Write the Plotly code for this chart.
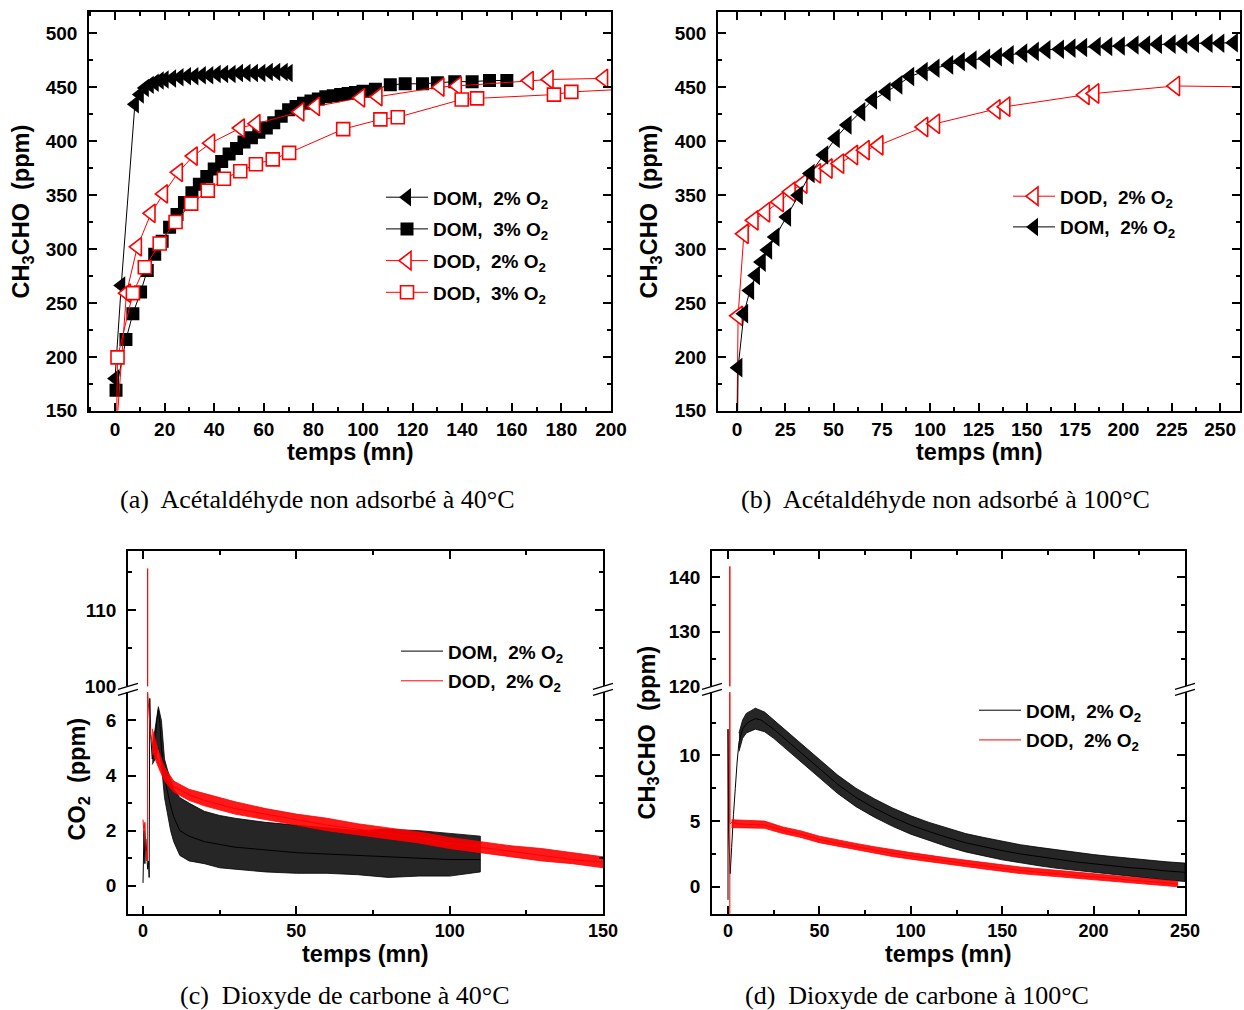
import plotly.graph_objects as go

# positions are given as pixels of the 1244x1010 reference picture and converted to paper fractions
W, H = 1244, 1010
FIG_W, FIG_H = 1260, 1023
SANS = "Liberation Sans, Arial, sans-serif"
SERIF = "Liberation Serif, Times New Roman, serif"

# ---------------- data ----------------
# (a) CH3CHO non adsorbed at 40 C
A_DOM2_t = [0, 2.5, 8, 10, 12, 14, 16, 18, 20, 23, 26, 29, 32, 35, 38, 41, 44, 47, 50, 53, 56, 59, 62, 65, 68, 70]
A_DOM2_y = [180, 266, 434, 443, 449, 452, 454, 456, 457, 458, 459, 460, 460, 461, 461, 462, 462, 462, 463, 463, 463, 463, 464, 464, 464, 463]
A_DOM3_t = [0.4, 4.4, 7.2, 10.3, 13, 16, 19, 22, 25, 28, 31, 34, 37, 40, 43, 46, 49, 52, 55, 58, 61, 64, 67, 70,
            73, 76, 79, 82, 85, 88, 91, 94, 97, 100, 105, 111, 117, 124, 130, 137, 144, 151, 158]
A_DOM3_y = [169, 216, 240, 260, 280, 295, 307, 320, 332, 343, 352, 360, 367, 374, 381, 388, 393, 399, 403, 408, 412, 417, 423, 429,
            432, 435, 437, 439, 441, 442, 443, 444, 445, 446, 448, 452, 453, 453, 454, 455, 455, 456, 456]
A_DOD2_t = [0.8, 4.6, 9, 14.5, 19.5, 25.5, 31.5, 38.5, 50.5, 56.8, 74.5, 80.8, 99, 106, 131, 138, 167, 175, 197]
A_DOD2_y = [140, 259, 302, 333, 351, 371, 386, 398, 412, 416, 427, 432, 440, 441, 450, 451, 456, 457, 458]
A_DOD3_t = [0.5, 1, 7.2, 12, 18, 24.4, 30.7, 37.4, 43.9, 50.5, 56.8, 63.6, 70.2, 92, 107, 114, 139.8, 146, 177, 184, 215]
A_DOD3_y = [120, 199.5, 259, 283, 305, 325, 342, 354, 365, 372, 378.5, 383, 389, 411, 420, 422, 438.5, 439.5, 443, 445.5, 449]

# (b) CH3CHO non adsorbed at 100 C
B_DOD2_t = [0, 0.6, 3.6, 8.7, 14.7, 21.8, 27.9, 34, 41, 47, 53, 60.2, 66.2, 73.3, 96.5, 102.6, 133.9, 139, 180, 185, 226.8, 270]
B_DOD2_y = [140, 238, 314, 326.5, 334, 343.5, 353, 360.6, 370, 374.5, 379, 387, 391.5, 396, 413, 416, 429.3, 431.8, 442.7, 444, 451, 450]
B_DOM2_t = [0.3, 0.6, 3.6, 6.7, 9.7, 12.7, 16, 19.8, 25.8, 31.9, 38, 45, 51, 57.1, 64.2, 70.3, 77.3, 83.4, 89.5, 96.5,
            102.6, 109.7, 115.7, 121.8, 128.8, 134.9, 141, 148, 154, 160, 167, 173, 179, 186, 192, 198.5, 205.6, 211.6,
            217.7, 224.8, 230.8, 236.9, 243.9, 250, 257]
B_DOM2_y = [140, 190, 240, 261.5, 275.4, 287.8, 299, 311, 329.6, 349.7, 369.9, 387, 402.4, 414.8, 427, 438, 445.7, 452, 459.7, 464.3,
            467.4, 470.5, 473.6, 475, 476.7, 478, 479.8, 481.4, 483, 484.5, 485, 486, 486.6, 487.6, 487.6, 488, 489, 489,
            489.7, 489.7, 490, 490.6, 490.6, 490.6, 491]

# (c) CO2 at 40 C  (centre line + read envelope of the noisy band)
C_DOM_t = [0, 0.3, 0.6, 0.9, 1.2, 1.5, 1.8, 2.0, 2.2, 2.5, 3.0, 3.5, 4.0, 4.5, 5.0, 5.5, 6, 7, 8, 9,
           10, 12, 15, 20, 25, 30, 40, 50, 60, 70, 80, 90, 100, 110]
C_DOM_y = [0.1, 2.0, 0.8, 1.7, 1.2, 0.6, 0.9, 0.3, 6.8, 5.5, 4.6, 4.8, 5.3, 6.0, 6.4, 5.9, 5.0, 4.0, 3.4, 2.9,
           2.5, 2.0, 1.8, 1.6, 1.5, 1.4, 1.3, 1.2, 1.15, 1.1, 1.05, 1.0, 0.95, 0.95]
C_DOM_band_t = [3, 4, 5, 6, 7, 8, 9, 10, 12, 15, 20, 25, 30, 40, 50, 60, 70, 80, 90, 100, 110]
C_DOM_lo = [4.4, 4.6, 5.0, 4.4, 3.2, 2.6, 2.0, 1.6, 1.1, 0.9, 0.8, 0.65, 0.6, 0.5, 0.45, 0.45, 0.4, 0.3, 0.35, 0.35, 0.5]
C_DOM_hi = [5.0, 5.8, 6.5, 6.0, 4.6, 4.2, 3.8, 3.5, 3.2, 3.0, 2.7, 2.55, 2.45, 2.3, 2.2, 2.1, 2.0, 2.05, 2.0, 1.9, 1.8]
C_DOD_t = [0, 0.3, 0.6, 0.9, 1.2, 1.5, 1.5, 1.5, 2.0, 2.5, 3, 4, 5, 7, 10, 15, 20, 25, 30, 40, 50,
           60, 70, 80, 90, 100, 110, 120, 130, 140, 150]
C_DOD_y = [2.4, 1.9, 2.3, 1.5, 0.9, 1.0, 115.5, 7.0, 6.2, 5.5, 5.2, 4.8, 4.5, 4.0, 3.6, 3.3, 3.1, 2.95, 2.8, 2.6, 2.4,
           2.2, 2.05, 1.9, 1.75, 1.55, 1.4, 1.25, 1.1, 0.95, 0.85]
C_DOD_band_t = [3, 5, 7, 10, 15, 20, 30, 40, 50, 60, 70, 80, 90, 100, 110, 120, 130, 140, 150]
C_DOD_lo = [4.9, 4.3, 3.8, 3.4, 3.1, 2.9, 2.6, 2.4, 2.2, 2.0, 1.85, 1.7, 1.55, 1.35, 1.2, 1.05, 0.9, 0.8, 0.65]
C_DOD_hi = [5.7, 4.9, 4.3, 3.8, 3.5, 3.35, 3.05, 2.8, 2.6, 2.45, 2.25, 2.1, 1.95, 1.75, 1.6, 1.45, 1.35, 1.2, 1.05]

# (d) CH3CHO at 100 C
D_DOM_t = [0, 0, 0.4, 1.2, 2, 3, 4, 5, 6, 8, 10, 12, 15, 18, 20, 25, 30, 35, 40, 45, 50, 60, 70, 80, 90,
           100, 110, 120, 130, 140, 150, 160, 170, 180, 190, 200, 210, 220, 230, 240, 250]
D_DOM_y = [-1, 12, 4, 1, 3, 5.5, 7.5, 9.5, 11, 12, 12.4, 12.6, 12.8, 12.7, 12.5, 12.0, 11.4, 10.8, 10.2, 9.6, 9.0,
           7.8, 6.8, 6.0, 5.3, 4.7, 4.2, 3.75, 3.35, 3.05, 2.75, 2.5, 2.3, 2.1, 1.9, 1.75, 1.6, 1.45, 1.35, 1.2, 1.1]
D_DOM_band_t = [6, 8, 10, 15, 20, 25, 30, 40, 50, 60, 70, 80, 90, 100, 110, 120, 130, 140, 150, 160, 170, 180,
                190, 200, 210, 220, 230, 240, 250]
D_DOM_lo = [10.3, 11.3, 11.7, 12.0, 11.8, 11.3, 10.7, 9.5, 8.3, 7.1, 6.1, 5.3, 4.6, 4.0, 3.5, 3.05, 2.65, 2.35, 2.05,
            1.8, 1.6, 1.4, 1.2, 1.05, 0.9, 0.75, 0.65, 0.5, 0.4]
D_DOM_hi = [11.7, 12.7, 13.2, 13.6, 13.3, 12.7, 12.1, 10.9, 9.7, 8.5, 7.5, 6.7, 6.0, 5.4, 4.9, 4.45, 4.05, 3.75, 3.45,
            3.2, 3.0, 2.8, 2.6, 2.45, 2.3, 2.15, 2.05, 1.9, 1.8]
D_DOD_t = [1.0, 1.0, 1.0, 1.3, 2, 5, 10, 15, 20, 25, 30, 40, 50, 60, 70, 80, 90, 100, 110, 120, 130, 140, 150,
           160, 170, 180, 190, 200, 210, 220, 230, 240, 246]
D_DOD_y = [-3, 142, 4.9, 4.8, 4.9, 4.8, 4.75, 4.75, 4.7, 4.5, 4.3, 4.0, 3.6, 3.3, 3.05, 2.8, 2.55, 2.35, 2.15, 1.95, 1.75,
           1.6, 1.4, 1.25, 1.1, 1.0, 0.85, 0.75, 0.65, 0.5, 0.4, 0.3, 0.2]
D_DOD_band_t = [2, 10, 20, 30, 40, 50, 60, 70, 80, 90, 100, 120, 140, 160, 180, 200, 220, 246]
D_DOD_lo = [4.5, 4.5, 4.45, 4.05, 3.75, 3.35, 3.05, 2.8, 2.55, 2.3, 2.1, 1.7, 1.35, 1.0, 0.75, 0.5, 0.3, 0.0]
D_DOD_hi = [5.1, 5.05, 5.0, 4.55, 4.25, 3.85, 3.55, 3.3, 3.05, 2.8, 2.6, 2.2, 1.85, 1.5, 1.25, 1.0, 0.75, 0.4]

LEG_DOM2 = "DOM,\u00a0 2% O<sub>2</sub>"
LEG_DOM3 = "DOM,\u00a0 3% O<sub>2</sub>"
LEG_DOD2 = "DOD,\u00a0 2% O<sub>2</sub>"
LEG_DOD3 = "DOD,\u00a0 3% O<sub>2</sub>"
XTITLE = "temps (mn)"
YTITLE_ACH = "CH<sub>3</sub>CHO\u00a0 (ppm)"
YTITLE_CO2 = "CO<sub>2</sub>\u00a0 (ppm)"
CAPTIONS = ["(a)\u00a0 Acétaldéhyde non adsorbé à 40°C",
            "(b)\u00a0 Acétaldéhyde non adsorbé à 100°C",
            "(c)\u00a0 Dioxyde de carbone à 40°C",
            "(d)\u00a0 Dioxyde de carbone à 100°C"]


# ---------------- helpers (layout only: picture pixel -> paper fraction) ----------------
def px(x):
    return x / W


def py(y):
    return 1 - y / H


def band(t, lo, hi):
    return list(t) + list(t)[::-1], list(hi) + list(lo)[::-1]


fig = go.Figure()

# ---- (a)
fig.add_trace(go.Scatter(x=A_DOM2_t, y=A_DOM2_y, name=LEG_DOM2, mode="lines+markers", legend="legend",
                         legendgroup="a1", line=dict(color="black", width=1),
                         marker=dict(symbol="triangle-left", size=16, color="black", line=dict(width=0)),
                         xaxis="x", yaxis="y"))
fig.add_trace(go.Scatter(x=A_DOM3_t, y=A_DOM3_y, name=LEG_DOM3, mode="lines+markers", legend="legend",
                         legendgroup="a2", line=dict(color="black", width=1),
                         marker=dict(symbol="square", size=13, color="black", line=dict(width=0)),
                         xaxis="x", yaxis="y"))
fig.add_trace(go.Scatter(x=A_DOD2_t, y=A_DOD2_y, name=LEG_DOD2, mode="lines+markers", legend="legend",
                         legendgroup="a3", line=dict(color="red", width=1),
                         marker=dict(symbol="triangle-left", size=16, color="white", line=dict(color="red", width=1.6)),
                         xaxis="x", yaxis="y"))
fig.add_trace(go.Scatter(x=A_DOD3_t, y=A_DOD3_y, name=LEG_DOD3, mode="lines+markers", legend="legend",
                         legendgroup="a4", line=dict(color="red", width=1),
                         marker=dict(symbol="square", size=13, color="white", line=dict(color="red", width=1.6)),
                         xaxis="x", yaxis="y"))

# ---- (b)
fig.add_trace(go.Scatter(x=B_DOD2_t, y=B_DOD2_y, name=LEG_DOD2, mode="lines+markers", legend="legend2",
                         legendgroup="b1", line=dict(color="red", width=1),
                         marker=dict(symbol="triangle-left", size=17, color="white", line=dict(color="red", width=1.6)),
                         xaxis="x2", yaxis="y2"))
fig.add_trace(go.Scatter(x=B_DOM2_t, y=B_DOM2_y, name=LEG_DOM2, mode="lines+markers", legend="legend2",
                         legendgroup="b2", line=dict(color="black", width=1),
                         marker=dict(symbol="triangle-left", size=17, color="black", line=dict(width=0)),
                         xaxis="x2", yaxis="y2"))

# ---- (c) and (d): noisy bands + centre lines, lower and upper (broken axis) parts
for (xa, ya_lo, ya_hi, leg, dom, dod) in [
    ("x3", "y3", "y4", "legend3",
     (C_DOM_t, C_DOM_y, C_DOM_band_t, C_DOM_lo, C_DOM_hi),
     (C_DOD_t, C_DOD_y, C_DOD_band_t, C_DOD_lo, C_DOD_hi)),
    ("x5", "y5", "y6", "legend4",
     (D_DOM_t, D_DOM_y, D_DOM_band_t, D_DOM_lo, D_DOM_hi),
     (D_DOD_t, D_DOD_y, D_DOD_band_t, D_DOD_lo, D_DOD_hi)),
]:
    xa_top = "x4" if xa == "x3" else "x6"
    for k, (name, col, fillcol, (t, y, bt, lo, hi)) in enumerate(
            [(LEG_DOM2, "black", "rgba(0,0,0,0.85)", dom),
             (LEG_DOD2, "red", "rgba(255,0,0,0.9)", dod)]):
        bx, by = band(bt, lo, hi)
        fig.add_trace(go.Scatter(x=bx, y=by, fill="toself", fillcolor=fillcol, mode="lines",
                                 line=dict(color=col, width=0.8), showlegend=False, hoverinfo="skip",
                                 xaxis=xa, yaxis=ya_lo))
        fig.add_trace(go.Scatter(x=t, y=y, name=name, mode="lines", legend=leg, legendgroup=f"{xa}{k}",
                                 line=dict(color=col, width=1, simplify=False), xaxis=xa, yaxis=ya_lo))
        fig.add_trace(go.Scatter(x=t, y=y, mode="lines", showlegend=False,
                                 line=dict(color=col, width=1, simplify=False), xaxis=xa_top, yaxis=ya_hi))

# ---------------- axes ----------------
TICKFONT = dict(family=SANS, size=19, weight="bold", color="black")
TICKFONT_CD = dict(family=SANS, size=18, weight="bold", color="black")
TITLEFONT = dict(family=SANS, size=23.5, weight="bold", color="black")


def ax(**kw):
    minor = dict(ticks="inside", ticklen=4, tickwidth=1.5, tickcolor="black", showgrid=False)
    minor.update(kw.pop("minor", {}))
    d = dict(showline=True, linecolor="black", linewidth=1.5, ticks="inside", ticklen=8, tickwidth=1.5,
             tickcolor="black", showgrid=False, zeroline=False, tickfont=TICKFONT, minor=minor,
             ticklabelstandoff=6)
    d.update(kw)
    return d


Y_AB = [py(410), py(12)]
C_LOW = [py(912), py(691)]
C_UP = [py(685), py(550)]
XT = dict(ticklabelstandoff=1)
XT0 = dict(ticklabelstandoff=0, tickfont=TICKFONT_CD)

layout = dict(
    width=FIG_W, height=FIG_H, autosize=False, margin=dict(l=0, r=0, t=0, b=0),
    paper_bgcolor="white", plot_bgcolor="white", showlegend=True,
    xaxis=ax(domain=[px(89), px(611)], range=[-10.5, 200], dtick=20, tick0=0, minor=dict(dtick=10),
             anchor="y", mirror="allticks", **XT),
    yaxis=ax(domain=Y_AB, range=[150, 519.5], dtick=50, tick0=0, minor=dict(dtick=25),
             anchor="x", mirror="allticks"),
    xaxis2=ax(domain=[px(718), px(1240)], range=[-9.8, 260.3], dtick=25, tick0=0, minor=dict(dtick=12.5),
              anchor="y2", mirror="allticks", **XT),
    yaxis2=ax(domain=Y_AB, range=[150, 519.5], dtick=50, tick0=0, minor=dict(dtick=25),
              anchor="x2", mirror="allticks"),
    # (c)
    xaxis3=ax(domain=[px(128), px(603)], range=[-4.9, 150], dtick=50, tick0=0, minor=dict(dtick=25),
              anchor="y3", **XT0),
    yaxis3=ax(domain=C_LOW, range=[-1.02, 7.02], dtick=2, tick0=0, minor=dict(dtick=1),
              anchor="x3", mirror="allticks"),
    xaxis4=ax(domain=[px(128), px(603)], matches="x3", dtick=50, tick0=0, minor=dict(dtick=25),
              anchor="y4", side="top", showticklabels=False),
    yaxis4=ax(domain=C_UP, range=[100, 117.8], dtick=10, tick0=100, minor=dict(dtick=5),
              anchor="x4", mirror="allticks"),
    # (d)
    xaxis5=ax(domain=[px(712), px(1185)], range=[-8.75, 250], dtick=50, tick0=0, minor=dict(dtick=25),
              anchor="y5", **XT0),
    yaxis5=ax(domain=C_LOW, range=[-2.06, 14.8], dtick=5, tick0=0, minor=dict(dtick=2.5),
              anchor="x5", mirror="allticks"),
    xaxis6=ax(domain=[px(712), px(1185)], matches="x5", dtick=50, tick0=0, minor=dict(dtick=25),
              anchor="y6", side="top", showticklabels=False),
    yaxis6=ax(domain=C_UP, range=[120, 144.8], dtick=10, tick0=120, minor=dict(dtick=5),
              anchor="x6", mirror="allticks"),
)

LEGFONT = dict(family=SANS, size=19, weight="bold", color="black")


def leg(x, y, gap):
    return dict(x=px(x), y=py(y), xanchor="left", yanchor="top", bgcolor="rgba(0,0,0,0)",
                borderwidth=0, font=LEGFONT, itemwidth=42, traceorder="grouped", tracegroupgap=gap)


layout["legend"] = leg(381, 178, 4)
layout["legend2"] = leg(1008, 177, 3)
layout["legend3"] = leg(396, 631, 2)
layout["legend4"] = leg(974, 690, 2)

# axis titles and captions
ann = []
for cx, cy, txt, ang in [(350, 451, XTITLE, 0), (979, 451, XTITLE, 0), (365, 952, XTITLE, 0), (948, 952, XTITLE, 0),
                         (22, 211, YTITLE_ACH, -90), (650, 211, YTITLE_ACH, -90),
                         (79, 778, YTITLE_CO2, -90), (648, 731, YTITLE_ACH, -90)]:
    ann.append(dict(x=px(cx), y=py(cy), xref="paper", yref="paper", text=txt, textangle=ang,
                    showarrow=False, font=TITLEFONT, xanchor="center", yanchor="middle"))
for cx, cy, txt in [(317, 499, CAPTIONS[0]), (945, 499, CAPTIONS[1]), (345, 994, CAPTIONS[2]), (917, 994, CAPTIONS[3])]:
    ann.append(dict(x=px(cx), y=py(cy), xref="paper", yref="paper", text=txt, showarrow=False,
                    font=dict(family=SERIF, size=26, color="black"), xanchor="center", yanchor="middle"))
layout["annotations"] = ann

# break marks (//) on left and right frame of (c) and (d)
shapes = []
for edge in [128, 603, 712, 1185]:
    for yb in [685, 691]:
        shapes.append(dict(type="line", xref="paper", yref="paper",
                           x0=px(edge - 10), y0=py(yb + 3), x1=px(edge + 10), y1=py(yb - 3),
                           line=dict(color="black", width=1.5)))
layout["shapes"] = shapes

fig.update_layout(**layout)
fig.write_html("out.html", config={"displayModeBar": False},
               post_script="document.body.style.margin='0px';")
